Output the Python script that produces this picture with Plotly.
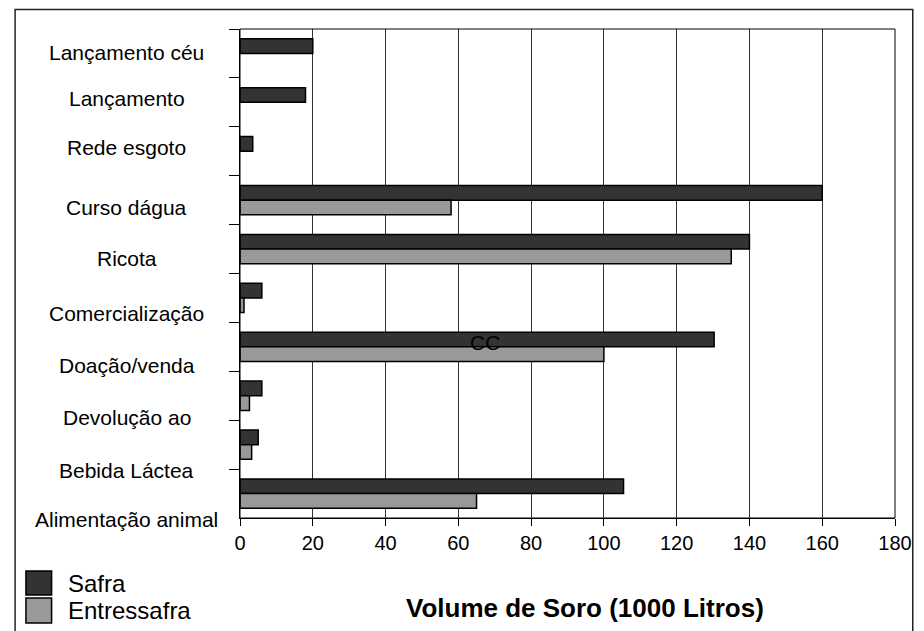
import plotly.graph_objects as go

# Whey destination categories, listed top to bottom
categories = [
    "Lançamento céu", "Lançamento", "Rede esgoto", "Curso dágua", "Ricota",
    "Comercialização", "Doação/venda", "Devolução ao", "Bebida Láctea",
    "Alimentação animal",
]
series_names = ["Safra", "Entressafra"]
safra = [20, 18, 3.5, 160, 140, 6, 130.3, 6, 5, 105.4]
entressafra = [None, None, None, 58, 135, 1.1, 100, 2.6, 3.2, 65]
x_ticks = [0, 20, 40, 60, 80, 100, 120, 140, 160, 180]
axis_title = "Volume de Soro (1000 Litros)"
note_text = "CC"
note_pos = (67.3, 5.92)

# ---- layout constants ----
W, H = 924, 631
L, R, T, B = 240, 20, 29, 113
FONT = "Liberation Sans, Arial, sans-serif"
colors = ["#333333", "#999999"]
# vertical nudge of each category label (in category units)
label_shift = [-0.02, -0.07, -0.08, 0.15, 0.20, 0.32, 0.38, 0.44, 0.53, 0.53]

plot_w = W - L - R
plot_h = H - T - B
band = plot_h / len(categories)


def px_x(px):
    return (px - L) / plot_w


def px_y(py):
    return (H - B - py) / plot_h


fig = go.Figure()
for name, vals, col in zip(series_names, [safra, entressafra], colors):
    fig.add_trace(go.Bar(
        y=categories, x=vals, name=name, orientation="h",
        marker=dict(color=col, line=dict(color="#000000", width=1.5)),
        showlegend=False,
    ))

annotations = []
for i, (cat, sh) in enumerate(zip(categories, label_shift)):
    ypix = T + (i + 0.5 + sh) * band
    annotations.append(dict(
        x=px_x(125), xref="paper", y=px_y(ypix), yref="paper",
        text=cat, showarrow=False, xanchor="center", yanchor="middle",
        font=dict(family=FONT, size=21, color="#000000"),
    ))

annotations.append(dict(
    x=note_pos[0], y=note_pos[1], xref="x", yref="y", text=note_text,
    showarrow=False, xanchor="center", yanchor="middle",
    font=dict(family=FONT, size=21, color="#000000"),
))

annotations.append(dict(
    x=px_x(590), xref="paper", y=px_y(608), yref="paper", text="<b>" + axis_title + "</b>",
    showarrow=False, xanchor="center", yanchor="middle",
    font=dict(family=FONT, size=26, color="#000000"),
))

shapes = []
# legend keys
legend_rows = [(571, 595, 583), (598, 623, 610)]
for (y0, y1, yc), name, col in zip(legend_rows, series_names, colors):
    shapes.append(dict(
        type="rect", xref="paper", yref="paper",
        x0=px_x(23), x1=px_x(49), y0=px_y(y1), y1=px_y(y0),
        fillcolor=col, line=dict(color="#000000", width=1.5),
    ))
    annotations.append(dict(
        x=px_x(64), xref="paper", y=px_y(yc), yref="paper", text=name,
        showarrow=False, xanchor="left", yanchor="middle",
        font=dict(family=FONT, size=24, color="#000000"),
    ))

# plot area frame
shapes.append(dict(type="rect", xref="paper", yref="paper", x0=0, x1=1, y0=0, y1=1,
                   line=dict(color="#000000", width=1), layer="above"))
# outer chart border
shapes.append(dict(type="rect", xref="paper", yref="paper",
                   x0=px_x(12), x1=px_x(922), y0=px_y(645), y1=px_y(9.5),
                   line=dict(color="#222222", width=1.5)))

fig.update_layout(
    width=W, height=H,
    margin=dict(l=L, r=R, t=T, b=B),
    paper_bgcolor="#ffffff", plot_bgcolor="#ffffff",
    barmode="group", bargap=0.40, bargroupgap=0,
    annotations=annotations, shapes=shapes,
    font=dict(family=FONT, color="#000000"),
    xaxis=dict(
        range=[0, 180], tickvals=x_ticks, ticktext=[str(v) for v in x_ticks],
        showgrid=True, gridcolor="#333333", gridwidth=1,
        showline=True, linecolor="#000000", linewidth=1,
        ticks="outside", ticklen=7, tickcolor="#000000",
        tickfont=dict(family=FONT, size=20, color="#000000"),
        zeroline=False, fixedrange=True,
    ),
    yaxis=dict(
        type="category", categoryorder="array", categoryarray=categories,
        range=[9.5, -0.5], showticklabels=False,
        showline=True, linecolor="#000000", linewidth=1,
        ticks="outside", ticklen=10, tickcolor="#000000", tickson="boundaries",
        showgrid=False, zeroline=False, fixedrange=True,
    ),
)

fig.write_html("out.html")
